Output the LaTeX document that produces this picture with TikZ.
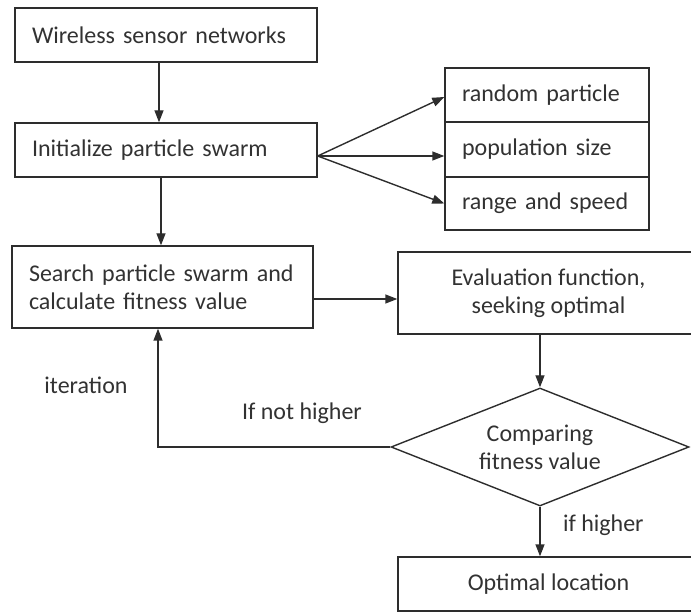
\documentclass[tikz,border=0pt]{standalone}
\usepackage{fontspec}
\setmainfont{Carlito}
\usetikzlibrary{arrows.meta,shapes.geometric}
\definecolor{ink}{RGB}{45,45,45}
\definecolor{txt}{RGB}{50,50,50}
\begin{document}
\begin{tikzpicture}[x=1pt,y=-1pt,
  line width=1.4pt, draw=ink,
  every node/.style={font=\fontsize{24}{28}\selectfont, text=txt},
  box/.style={draw=ink, rectangle, inner sep=0pt},
  lbox/.style={box, align=left, inner xsep=17pt},
  arr/.style={draw=ink, -{Triangle[length=12pt,width=9pt]}},
  plain/.style={draw=ink}]
\useasboundingbox (0,0) rectangle (691,612);
\clip (0,0) rectangle (691,612);
% boxes
\node[lbox, minimum width=302pt, minimum height=54pt, text width=268pt] (wsn) at (166,35) {Wireless sensor networks};
\node[lbox, minimum width=302pt, minimum height=54pt, text width=268pt] (init) at (166,150) {Initialize particle swarm};
\node[lbox, minimum width=204pt, minimum height=54pt, text width=170pt] (rp) at (547,95) {random particle};
\node[lbox, minimum width=204pt, minimum height=55pt, text width=170pt] (ps) at (547,149.5) {population size};
\node[lbox, minimum width=204pt, minimum height=53pt, text width=170pt] (rs) at (547,203.5) {range and speed};
\node[lbox, minimum width=301pt, minimum height=82pt, text width=267pt] (search) at (162.5,287) {Search particle swarm and\\calculate fitness value};
\node[box, align=center, minimum width=301pt, minimum height=82pt] (eval) at (548.5,293) {Evaluation function,\\seeking optimal};
\node[diamond, draw=ink, inner sep=0pt, minimum width=298pt, minimum height=118pt] (cmp) at (540,447) {};
\node[align=center] (cmptxt) at (cmp.center) {Comparing\\fitness value};
\node[box, align=center, minimum width=301pt, minimum height=54pt] (opt) at (548.5,584) {Optimal location};
% labels
\node (iter) at (86,385) {iteration};
\node[anchor=west] (notl) at (238,413) {If not higher};
\node[anchor=west] (hil) at (559,525) {if higher};
% connectors
\coordinate (fan) at ([yshift=-6pt]init.east);
\coordinate (sout) at ([yshift=-12pt]search.east);
\draw[arr] ([xshift=-7pt]wsn.south) -- ([xshift=-7pt]init.north);
\draw[arr] (fan) -- ([yshift=-2pt]rp.west);
\draw[arr] (fan) -- (ps.west |- fan);
\draw[arr] (fan) -- (rs.west);
\draw[arr] ([xshift=-5pt]init.south) -- ([xshift=-5pt]init.south |- search.north);
\draw[arr] (sout) -- (eval.west |- sout);
\draw[arr] (cmp.north |- eval.south) -- (cmp.north);
\draw[arr] (cmp.south) -- (cmp.south |- opt.north);
\draw[arr] (cmp.west) -| ([xshift=-4.5pt]search.south);
\end{tikzpicture}
\end{document}
